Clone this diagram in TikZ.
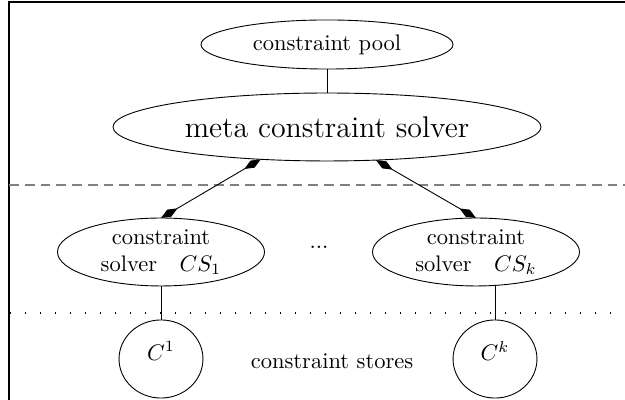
\documentclass[tikz,border=0pt]{standalone}
\usetikzlibrary{arrows.meta,shapes.geometric}
\begin{document}
\begin{tikzpicture}[x=0.4444pt,y=-0.4444pt,
  bubble/.style={draw, ellipse, inner sep=0pt, outer sep=0pt},
  solverbox/.style={bubble, minimum width=92pt, minimum height=30.2pt, align=center},
  storebox/.style={bubble, minimum width=37.3pt, minimum height=34.7pt},
  biarrow/.style={{Diamond[length=8.5pt,width=3.6pt]}-{Diamond[length=8.5pt,width=3.6pt]}},
]
\useasboundingbox (0,0) rectangle (625,400);
% frame
\draw[line width=0.8pt] (9,400) -- (9,2) -- (625,2);

% upper level
\node[bubble, minimum width=112pt, minimum height=21.8pt] (pool) at (327,44.5) {constraint pool};
\node[bubble, minimum width=190.2pt, minimum height=30.2pt,
      font=\fontsize{13.3}{16}\selectfont] (meta) at (327,127) {meta constraint solver};
\draw (pool) -- (meta);

% layer separators
\draw[line width=0.6pt, gray, dash pattern=on 4.4pt off 2.6pt] (9,185) -- (625,185);
\draw[line width=0.5pt, dash pattern=on 0.5pt off 6.17pt] (10,313) -- (625,313);

% solvers
\node[solverbox] (cs1) at (161,252) {constraint\\solver\quad $CS_1$};
\node[solverbox] (csk) at (476,252) {constraint\\solver\quad $CS_k$};
\node (dots) at (319,247) {...};
\draw[biarrow] (meta.206.5) -- (cs1.north);
\draw[biarrow] (meta.326) -- (csk.north);

% constraint stores
\node[storebox] (c1) at (161,359) {};
\node[storebox] (ck) at (495,359) {};
\node (c1label) at (161,351) {$C^1$};
\node (cklabel) at (495,351) {$C^k$};
\node (stores) at (332,361) {constraint stores};
\draw (cs1) -- (c1);
\draw (ck.north) -- (ck.north |- csk.south);
\end{tikzpicture}
\end{document}
